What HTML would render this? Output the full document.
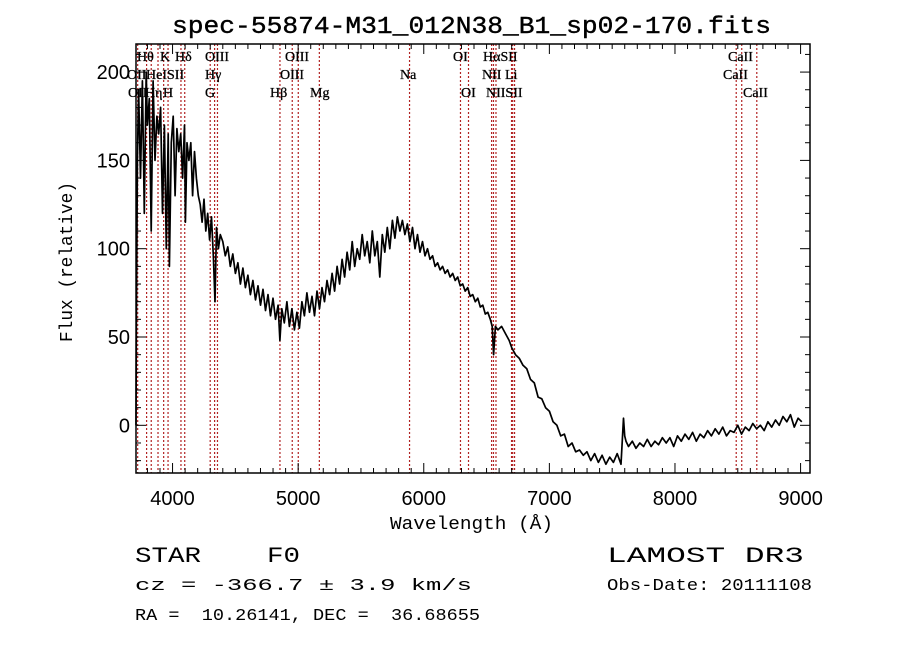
<!DOCTYPE html>
<html><head><meta charset="utf-8"><style>
html,body{margin:0;padding:0;background:#fff;}
svg{display:block;}
text{fill:#000;white-space:pre;}
</style></head><body>
<svg id="chart" width="900" height="649" viewBox="0 0 900 649" xmlns="http://www.w3.org/2000/svg" xml:space="preserve">
<rect x="0" y="0" width="900" height="649" fill="#fff"/>
<text x="172" y="33" textLength="599" lengthAdjust="spacingAndGlyphs" font-family="Liberation Mono, monospace" font-size="24" stroke="#000" stroke-width="0.4">spec-55874-M31_012N38_B1_sp02-170.fits</text>
<g id="lines"></g>
<g id="series"></g>
<g id="axes"></g>
<g id="labels" font-family="Liberation Serif, serif" font-size="14"></g>
<text x="390" y="529" textLength="163" lengthAdjust="spacingAndGlyphs" font-family="Liberation Mono, monospace" font-size="18">Wavelength (Å)</text>
<text transform="translate(72,342) rotate(-90)" textLength="160" lengthAdjust="spacingAndGlyphs" font-family="Liberation Mono, monospace" font-size="18">Flux (relative)</text>
<text x="135" y="562" textLength="165" lengthAdjust="spacingAndGlyphs" font-family="Liberation Mono, monospace" font-size="22">STAR    F0</text>
<text x="607" y="562" textLength="197" lengthAdjust="spacingAndGlyphs" font-family="Liberation Mono, monospace" font-size="22">LAMOST DR3</text>
<text x="135" y="590" textLength="337" lengthAdjust="spacingAndGlyphs" font-family="Liberation Mono, monospace" font-size="17">cz = -366.7 ± 3.9 km/s</text>
<text x="607" y="590" textLength="205" lengthAdjust="spacingAndGlyphs" font-family="Liberation Mono, monospace" font-size="17">Obs-Date: 20111108</text>
<text x="135" y="620" textLength="345" lengthAdjust="spacingAndGlyphs" font-family="Liberation Mono, monospace" font-size="17">RA =  10.26141, DEC =  36.68655</text>
</svg>
<script>
const wavelengths=[3709,3712,3720,3730,3745,3760,3775,3790,3800,3815,3830,3845,3860,3875,3890,3905,3920,3935,3950,3965,3975,3990,4005,4020,4035,4050,4065,4080,4095,4102,4115,4130,4145,4160,4175,4190,4205,4220,4235,4250,4265,4280,4295,4310,4325,4338,4350,4365,4380,
4400,4420,4440,4460,4480,4500,4520,4540,4560,4580,4600,4620,4640,4660,4680,4700,4720,4740,4760,4780,4800,4820,4840,4855,4870,4890,4910,4930,4950,4970,4990,5010,5030,5050,5070,5090,5110,5130,5150,5170,5190,5210,5230,5250,5270,5290,5310,5330,5350,5370,5390,5410,5430,5450,5470,5490,5510,5530,5550,5570,5590,5610,5630,5650,5670,5690,5710,5730,5750,5770,5790,5810,5830,5850,5870,5890,5910,5930,5950,5970,5990,6010,6030,6050,6070,6090,6110,6130,6150,6170,6190,6210,6230,6250,6270,6290,6310,6330,6350,6370,6390,6410,6430,6450,6470,6490,6510,6530,
6545,6556,6570,6590,6620,6650,6680,6700,6730,6760,6790,6820,6850,6880,6910,6940,6970,7000,7030,7060,7090,7120,7150,7180,7210,7240,7270,7300,7330,7360,7390,7420,7450,7480,7510,7540,7570,7590,7600,7610,7630,7660,7690,7720,7750,7780,7810,7840,7870,7900,7930,7960,7990,8020,8050,8080,8110,8140,8170,8200,8230,8260,8290,8320,8350,8380,8410,8440,8470,8500,8530,8560,8590,8620,8650,8680,8710,8740,8770,8800,8830,8860,8890,8920,8950,8980,9010,9040];
const flux=[0,60,150,190,140,195,120,200,170,185,110,195,150,175,165,180,120,170,100,165,90,160,175,130,168,155,165,140,170,115,160,150,160,130,155,140,130,125,115,128,110,120,105,118,95,70,112,100,108,
104,96,101,90,97,86,92,80,89,78,85,74,82,71,79,68,77,65,74,62,72,60,68,48,66,58,70,56,66,54,64,55,70,62,75,64,73,62,76,66,78,70,82,74,86,76,90,80,94,84,98,88,104,90,100,94,108,96,104,92,110,96,104,84,108,98,112,100,116,106,118,110,116,108,114,104,112,100,108,98,104,96,100,94,96,90,92,88,90,86,88,84,86,82,84,79,80,76,78,73,74,70,72,67,68,63,64,60,
56,40,56,54,56,52,48,44,40,38,34,32,26,24,16,15,10,8,2,0,-6,-5,-12,-10,-15,-14,-17,-15,-20,-16,-21,-17,-22,-18,-21,-16,-22,4,-6,-9,-12,-9,-13,-10,-12,-8,-12,-9,-11,-7,-10,-7,-12,-6,-9,-5,-8,-4,-9,-5,-7,-3,-6,-2,-5,-1,-6,-3,-4,0,-5,-1,-3,1,-2,0,-3,2,-1,3,0,5,2,6,-1,4,2];
const lineWaves=[3727,3798,3835,3889,3934,3969,4072,4102,4305,4340,4363,4861,4959,5007,5175,5894,6300,6364,6548,6563,6583,6707,6716,6731,8498,8542,8662];
const xTicks=[4000,5000,6000,7000,8000,9000];
const yTicks=[0,50,100,150,200];
const cz=-366.7;
const L=136,R=810,T=44,B=473;
const xMin=3709,xMax=9075,yMin=-27,yMax=215.9;
function xs(w){return L+(w-xMin)/(xMax-xMin)*(R-L);}
function ys(v){return B-(v-yMin)/(yMax-yMin)*(B-T);}
const NS='http://www.w3.org/2000/svg';
function mk(tag,parent,attrs){const e=document.createElementNS(NS,tag);for(const k in attrs)e.setAttribute(k,attrs[k]);parent.appendChild(e);return e;}
const gl=document.getElementById('lines');
const shift=1+cz/299792.458;
lineWaves.forEach(w=>{const x=xs(w*shift);
 const l=mk('line',gl,{x1:x,x2:x,y1:T,y2:B,stroke:'#b22222','stroke-width':1.2,'stroke-dasharray':'2,2'});
 
 });
const gs=document.getElementById('series');
let d='';
wavelengths.forEach((w,i)=>{const v=Math.max(yMin,Math.min(yMax,flux[i]));d+=(i?'L':'M')+xs(w).toFixed(1)+','+ys(v).toFixed(1);});
const p=mk('path',gs,{d:d,fill:'none',stroke:'#000','stroke-width':1.7,'stroke-linejoin':'round'});


const ga=document.getElementById('axes');
const fr=mk('rect',ga,{x:L,y:T,width:R-L,height:B-T,fill:'none',stroke:'#000','stroke-width':1.5});


for(let w=3800;w<=xMax;w+=100){const x=xs(w);const major=w%1000===0;const len=major?10:5;
 mk('line',ga,{x1:x,x2:x,y1:B,y2:B-len,stroke:'#000','stroke-width':1});
 mk('line',ga,{x1:x,x2:x,y1:T,y2:T+len,stroke:'#000','stroke-width':1});}
xTicks.forEach(w=>{const t=mk('text',ga,{x:xs(w),y:B+32,'text-anchor':'middle','font-family':'Liberation Sans, sans-serif','font-size':20});t.textContent=w;
 
 });
for(let v=-20;v<=yMax;v+=10){const y=ys(v);const major=v%50===0;const len=major?10:5;
 mk('line',ga,{x1:L,x2:L+len,y1:y,y2:y,stroke:'#000','stroke-width':1});
 mk('line',ga,{x1:R,x2:R-len,y1:y,y2:y,stroke:'#000','stroke-width':1});}
yTicks.forEach(v=>{const t=mk('text',ga,{x:L-6,y:ys(v)+7,'text-anchor':'end','font-family':'Liberation Sans, sans-serif','font-size':20});t.textContent=v;
 
 });
const labs=[["Hθ",137,61],["K",160,61],["Hδ",175,61],["OIII",205,61],["OIII",285,61],["OI",453,61],["HαSII",483,61],["CaII",728,61],
["OII",127,79],["HeI",146,79],["SII",167,79],["Hγ",205,79],["OIII",280,79],["Na",400,79],["NII",482,79],["Li",505,79],["CaII",723,79],
["OII",128,97],["Hη",145,97],["H",163,97],["G",205,97],["Hβ",270,97],["Mg",310,97],["OI",461,97],["NIISII",486,97],["CaII",743,97]];
const glab=document.getElementById('labels');
labs.forEach(a=>{const t=mk('text',glab,{x:a[1],y:a[2],stroke:'#000','stroke-width':0.3});t.textContent=a[0];
 
 });
</script>
</body></html>
